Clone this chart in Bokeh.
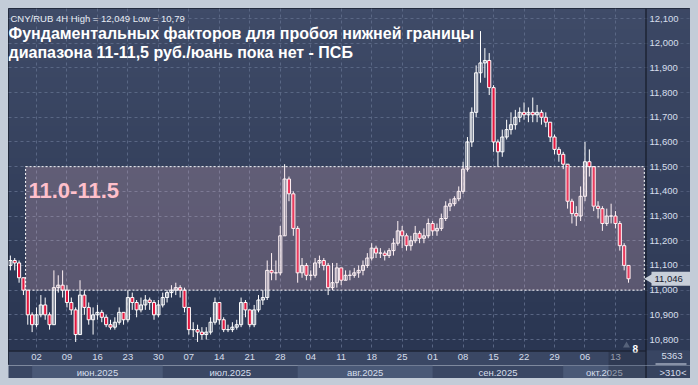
import numpy as np
from bokeh.plotting import figure
from bokeh.models import Range1d, FixedTicker, CustomJSTickFormatter, ColumnDataSource, Spacer
from bokeh.layouts import column, row
from bokeh.core.properties import value
from bokeh.embed import file_html
from bokeh.resources import INLINE

# ---------------- data (day offset from Mon 02.06.2025) ----------------
day = list(range(-6, 137))
close = [
    11.12, 11.11, 11.05, 11.00, 10.90, 10.86,
    10.90, 10.94, 10.90, 10.86, 11.01, 11.02, 11.00,
    10.95, 10.92, 10.82, 10.98, 10.93, 10.88, 10.90,
    10.91, 10.89, 10.86, 10.85, 10.87, 10.91, 10.88,
    10.97, 10.95, 10.92, 10.94, 10.96, 10.95, 10.90,
    10.94, 10.97, 10.99, 11.00, 11.01, 11.00, 10.93,
    10.84, 10.84, 10.83, 10.82, 10.83, 10.87, 10.95,
    10.88, 10.84, 10.84, 10.85, 10.86, 10.95, 10.92,
    10.86, 10.92, 10.96, 10.97, 11.08, 11.07, 11.07,
    11.22, 11.45, 11.39, 11.25, 11.07, 11.10, 11.06,
    11.06, 11.11, 11.12, 11.10, 11.01, 11.03, 11.09,
    11.04, 11.06, 11.06, 11.07, 11.08, 11.10, 11.13,
    11.17, 11.15, 11.15, 11.14, 11.16, 11.19, 11.24,
    11.22, 11.18, 11.20, 11.23, 11.21, 11.22, 11.27,
    11.24, 11.25, 11.29, 11.34, 11.35, 11.37, 11.40,
    11.49, 11.60, 11.72, 11.88, 11.92, 11.93, 11.82,
    11.60, 11.56, 11.62, 11.65, 11.67, 11.70, 11.72,
    11.71, 11.72, 11.71, 11.72, 11.70, 11.68, 11.62,
    11.57, 11.55, 11.51, 11.36, 11.31, 11.30, 11.38,
    11.52, 11.50, 11.34, 11.33, 11.27, 11.30, 11.30,
    11.27, 11.18, 11.10, 11.046,
]
high = [
    11.14, 11.13, 11.12, 11.05, 11.00, 10.91,
    10.93, 10.98, 10.97, 10.91, 11.08, 11.06, 11.08,
    11.02, 10.97, 10.93, 11.04, 11.00, 10.95, 10.93,
    10.94, 10.92, 10.90, 10.88, 10.89, 10.93, 10.91,
    11.00, 10.99, 10.96, 10.97, 10.98, 10.97, 10.96,
    10.96, 10.99, 11.00, 11.02, 11.03, 11.02, 11.01,
    10.93, 10.87, 10.86, 10.85, 10.85, 10.89, 10.97,
    10.95, 10.89, 10.86, 10.87, 10.88, 10.97, 10.96,
    10.92, 10.94, 10.98, 11.00, 11.12, 11.15, 11.12,
    11.26, 11.51, 11.46, 11.40, 11.26, 11.13, 11.11,
    11.08, 11.13, 11.14, 11.13, 11.11, 11.11, 11.11,
    11.09, 11.08, 11.08, 11.09, 11.10, 11.12, 11.15,
    11.19, 11.18, 11.17, 11.16, 11.17, 11.21, 11.28,
    11.26, 11.23, 11.22, 11.26, 11.24, 11.25, 11.29,
    11.28, 11.27, 11.31, 11.36, 11.37, 11.38, 11.42,
    11.52, 11.62, 11.74, 11.91, 12.049, 11.98, 11.96,
    11.83, 11.61, 11.65, 11.69, 11.72, 11.73, 11.74,
    11.76, 11.74, 11.78, 11.75, 11.73, 11.72, 11.68,
    11.63, 11.58, 11.56, 11.51, 11.37, 11.34, 11.42,
    11.60, 11.57, 11.50, 11.36, 11.34, 11.33, 11.35,
    11.32, 11.28, 11.19, 11.10,
]
low = [
    11.08, 11.08, 11.03, 10.98, 10.86, 10.83,
    10.85, 10.89, 10.88, 10.84, 10.86, 10.99, 10.97,
    10.93, 10.90, 10.79, 10.82, 10.90, 10.86, 10.82,
    10.88, 10.87, 10.85, 10.84, 10.84, 10.86, 10.86,
    10.87, 10.92, 10.89, 10.91, 10.92, 10.92, 10.88,
    10.89, 10.93, 10.95, 10.97, 10.98, 10.97, 10.91,
    10.82, 10.81, 10.79, 10.80, 10.80, 10.82, 10.86,
    10.86, 10.83, 10.83, 10.83, 10.84, 10.85, 10.89,
    10.85, 10.85, 10.91, 10.94, 10.96, 11.04, 11.04,
    11.06, 11.22, 11.36, 11.22, 11.03, 11.05, 11.04,
    11.04, 11.05, 11.09, 11.08, 10.98, 11.00, 11.01,
    11.02, 11.04, 11.04, 11.05, 11.05, 11.06, 11.09,
    11.12, 11.13, 11.13, 11.12, 11.13, 11.14, 11.18,
    11.17, 11.16, 11.16, 11.19, 11.19, 11.19, 11.21,
    11.22, 11.22, 11.24, 11.28, 11.32, 11.34, 11.36,
    11.39, 11.48, 11.58, 11.70, 11.84, 11.86, 11.79,
    11.56, 11.50, 11.54, 11.61, 11.63, 11.65, 11.68,
    11.69, 11.68, 11.68, 11.68, 11.67, 11.66, 11.60,
    11.55, 11.52, 11.49, 11.33, 11.27, 11.26, 11.28,
    11.36, 11.46, 11.32, 11.29, 11.24, 11.26, 11.27,
    11.25, 11.16, 11.08, 11.03,
]
first_open = 11.10
open_ = [first_open] + close[:-1]

week_ticks = list(range(0, 134, 7))
week_labels = ["02", "09", "16", "23", "30", "07", "14", "21", "28", "04",
               "11", "18", "25", "01", "08", "15", "22", "29", "06", "13"]
month_names = ["июн.2025", "июл.2025", "авг.2025", "сен.2025", "окт.2025"]
month_start = [-1, 29, 60, 91, 121]
month_end = [29, 60, 91, 121, 152]
price_ticks = [10.8, 10.9, 11.0, 11.1, 11.2, 11.3, 11.4, 11.5, 11.6, 11.7, 11.8, 11.9, 12.0, 12.1]
zone_low, zone_high = 11.0, 11.5
zone_start = -2.5
last_price = 11.046
header = "CNY/RUB 4H High = 12,049 Low = 10,79"
title1 = "Фундаментальных факторов для пробоя нижней границы"
title2 = "диапазона 11-11,5 руб./юань пока нет - ПСБ"
zone_text = "11.0-11.5"
bars_count = "5363"
bars_visible = ">310<"
marker_text = "8"

# ---------------- geometry helpers (page pixels -> data) ----------------
FONT = "Liberation Sans"
PPD = 637 / 146.33          # pixels per day
PPU = 342 / 1.385           # pixels per price unit
X0 = -6.43                  # day at page x = 8
Y1 = 12.1405                # price at page y = 8
XR = X0 + 682 / PPD         # frame right (page x = 690)
YB = Y1 - 357 / PPU         # frame bottom (page y = 365)


def px_x(px):
    return X0 + (px - 8) / PPD


def px_y(py):
    return Y1 - (py - 8) / PPU


XP = px_x(645)              # right edge of price area
YP = px_y(350)              # bottom edge of price area

AXIS_BG = "#36435f"
LABEL_C = "#d6deeb"

p = figure(width=682, height=357, x_range=Range1d(X0, XR), y_range=Range1d(YB, Y1),
           y_axis_location="right", output_backend="svg", toolbar_location=None,
           min_border_left=0, min_border_top=0, min_border_right=0, min_border_bottom=0)
p.background_fill_color = AXIS_BG
p.border_fill_color = AXIS_BG
p.outline_line_color = "#1a2130"

# vertical gradient background (price area + right scale)
n = 64
top_c = np.array([63, 75, 104], dtype=float)
bot_c = np.array([42, 54, 82], dtype=float)
img = np.zeros((n, 1), dtype=np.uint32)
view = img.view(dtype=np.uint8).reshape((n, 1, 4))
for i in range(n):
    c = bot_c + (top_c - bot_c) * i / (n - 1)
    view[i, 0, 0:3] = c.astype(np.uint8)
    view[i, 0, 3] = 255
p.image_rgba(image=[img], x=X0, y=YP, dw=XR - X0, dh=Y1 - YP, level="image")

# grids
for g in (p.xgrid, p.ygrid):
    g.grid_line_color = "#5d6a88"
    g.grid_line_dash = "3 3"
    g.grid_line_alpha = 0.9

# panels (date strip, right scale)
p.quad(left=[X0], right=[XR], bottom=[YB], top=[YP], fill_color="#3a4764", line_color=None)
p.quad(left=[XP], right=[XR], bottom=[YB], top=[Y1], fill_color=AXIS_BG, fill_alpha=0.35, line_color=None)

# axes (labels drawn inside the panels)
p.xaxis.ticker = FixedTicker(ticks=week_ticks)
p.xaxis.major_label_overrides = {t: s for t, s in zip(week_ticks, week_labels)}
p.yaxis.ticker = FixedTicker(ticks=price_ticks)
p.yaxis.formatter = CustomJSTickFormatter(code="return tick.toFixed(3).replace('.', ',');")
for ax in (p.xaxis, p.yaxis):
    ax.axis_line_color = None
    ax.major_tick_out = 0
    ax.major_tick_in = 0
    ax.minor_tick_out = 0
    ax.minor_tick_in = 0
    ax.major_label_text_font = FONT
    ax.major_label_text_font_size = "9.5px"
    ax.major_label_text_color = LABEL_C
p.yaxis.major_label_standoff = -41
p.xaxis.major_label_standoff = -12

# separator lines
p.segment(x0=[XP + 0.5 / PPD], y0=[YB], x1=[XP + 0.5 / PPD], y1=[Y1], line_color="#0e131c", line_width=1)
p.segment(x0=[X0], y0=[YP - 0.5 / PPU], x1=[XP], y1=[YP - 0.5 / PPU], line_color="#0e131c", line_width=1)

# candles
tops = [max(o, c) for o, c in zip(open_, close)]
bots = [min(o, c) for o, c in zip(open_, close)]
fills = ["#e3173f" if c < o else "#34415e" for o, c in zip(open_, close)]
alphas = [1.0 if c < o else 0.0 for o, c in zip(open_, close)]
src = ColumnDataSource(dict(x=day, h=high, l=low, top=tops, bottom=bots, fill=fills, fa=alphas))
p.segment(x0="x", y0="h", x1="x", y1="l", source=src, line_color="#ffffff", line_width=1)
p.vbar(x="x", width=0.72, top="top", bottom="bottom", source=src,
       fill_color="fill", fill_alpha="fa", line_color="#ffffff", line_width=1)

# zone 11.0 - 11.5
p.quad(left=[zone_start], right=[XP - 1.2 / PPD], bottom=[zone_low], top=[zone_high],
       fill_color="#ffc6d0", fill_alpha=0.22, line_color="#ffffff", line_dash="2 2", line_width=1)

# texts inside the chart
p.text(x=[px_x(10)], y=[px_y(18)], text=[header], text_font=value(FONT),
       text_font_size="9.5px", text_color="#e8edf5", text_baseline="alphabetic")
p.text(x=[px_x(8)], y=[px_y(33)], text=[title1], text_font=value(FONT), text_font_style="bold",
       text_font_size="16px", text_color="#ffffff", text_baseline="alphabetic")
p.text(x=[px_x(8)], y=[px_y(52)], text=[title2], text_font=value(FONT), text_font_style="bold",
       text_font_size="16px", text_color="#ffffff", text_baseline="alphabetic")
p.text(x=[px_x(28)], y=[px_y(190)], text=[zone_text], text_font=value(FONT), text_font_style="bold",
       text_font_size="22px", text_color="#ffc0cb", text_baseline="alphabetic")
p.scatter(x=[px_x(626)], y=[px_y(345)], marker="triangle", size=7, fill_color="#56627a", line_color=None)
p.text(x=[px_x(632)], y=[px_y(348)], text=[marker_text], text_font=value(FONT), text_font_style="bold",
       text_font_size="10px", text_color="#ffffff", text_baseline="alphabetic")

# current price tag on the scale
tag_h = 7 / PPU
p.quad(left=[px_x(651)], right=[XR], bottom=[last_price - tag_h], top=[last_price + tag_h],
       fill_color="#c8cfd9", line_color=None)
p.scatter(x=[px_x(650)], y=[last_price], marker="triangle", angle=np.pi / 2, size=11,
          fill_color="#c8cfd9", line_color=None)
p.text(x=[px_x(654)], y=[last_price], text=[f"{last_price:.3f}".replace(".", ",")],
       text_font=value(FONT), text_font_size="9.5px", text_color="#17202e", text_baseline="middle")

# bar counter (bottom right corner)
p.text(x=[px_x(661)], y=[px_y(352)], text=[bars_count], text_font=value(FONT),
       text_font_size="9.5px", text_color=LABEL_C, text_baseline="top")
p.segment(x0=[px_x(655)], y0=[px_y(363.5)], x1=[px_x(686)], y1=[px_y(363.5)],
          line_color=LABEL_C, line_width=1)

# dimmed scroll marker over the date strip
p.quad(left=[px_x(608)], right=[XP], bottom=[YB], top=[px_y(351)], fill_color="#1c2333",
       fill_alpha=0.35, line_color=None, level="overlay")

# ---------------- month band ----------------
pb = figure(width=682, height=13, x_range=p.x_range, y_range=Range1d(0, 1),
            x_axis_type=None, y_axis_type=None, output_backend="svg", toolbar_location=None,
            min_border_left=0, min_border_top=0, min_border_right=0, min_border_bottom=0)
pb.background_fill_color = "#3a4764"
pb.border_fill_color = "#3a4764"
pb.outline_line_color = None
pb.grid.visible = False
light_l = [s for i, s in enumerate(month_start) if i % 2 == 0]
light_r = [min(e, XP) for i, e in enumerate(month_end) if i % 2 == 0]
pb.quad(left=light_l, right=light_r, bottom=0, top=1, fill_color="#4a5977", line_color=None)
centers = [(max(s, X0) + min(e, XP)) / 2 for s, e in zip(month_start, month_end)]
pb.text(x=centers, y=[0.45] * len(centers), text=month_names, text_font=value(FONT),
        text_font_size="9.5px", text_color=LABEL_C, text_align="center", text_baseline="middle")
pb.quad(left=[px_x(608)], right=[XP], bottom=[0], top=[1], fill_color="#1c2333",
        fill_alpha=0.35, line_color=None)
pb.quad(left=[XP], right=[XR], bottom=[0], top=[1], fill_color=AXIS_BG, line_color=None)
pb.segment(x0=[XP + 0.5 / PPD], y0=[0], x1=[XP + 0.5 / PPD], y1=[1], line_color="#0e131c", line_width=1)
pb.text(x=[px_x(659)], y=[0.45], text=[bars_visible], text_font=value(FONT),
        text_font_size="9.5px", text_color=LABEL_C, text_baseline="middle")

inner = column(p, pb, spacing=0)
layout = column(Spacer(width=698, height=8),
                row(Spacer(width=8, height=370), inner, spacing=0),
                width=698, height=385, spacing=0,
                styles={"background-color": "#c3ccd8"})

open("out.html", "w").write(file_html(layout, INLINE))
